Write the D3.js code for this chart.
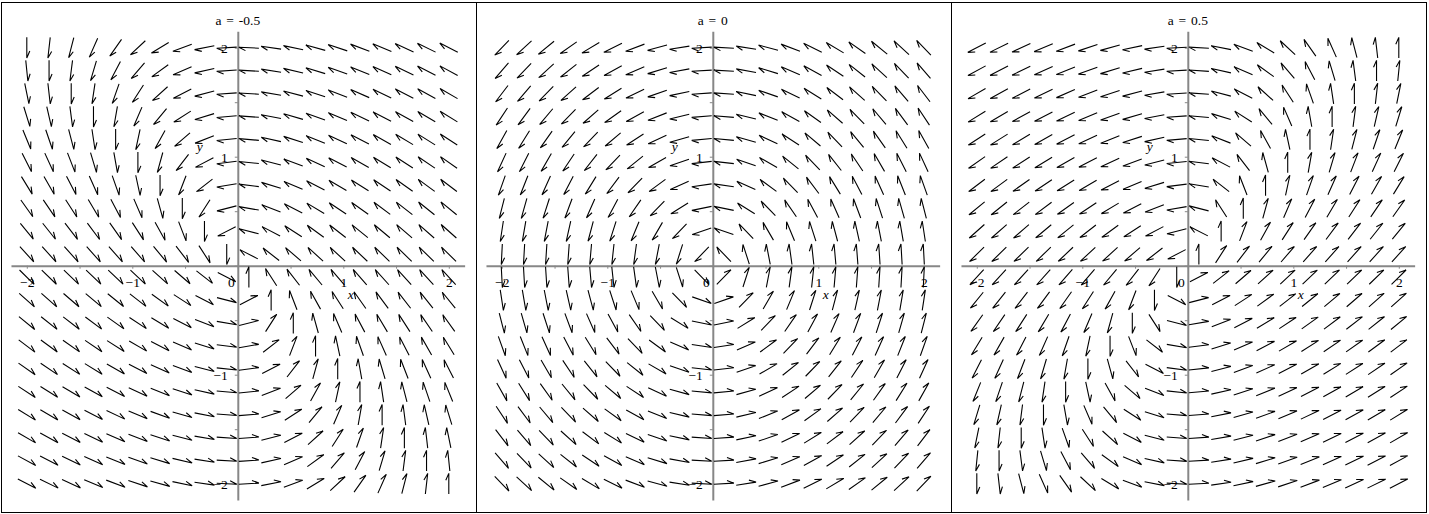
<!DOCTYPE html>
<html>
<head>
<meta charset="utf-8">
<script src="https://cdn.jsdelivr.net/npm/d3@7"></script>
<style>
  html, body { margin: 0; padding: 0; background: #fff; }
  svg { display: block; }
  text { font-family: "Liberation Serif", "Times New Roman", serif; fill: #000; }
</style>
</head>
<body>
<svg id="chart" width="1429" height="514"></svg>
<script>
// ---- data ----
const aValues = [-0.5, 0, 0.5];
const titles = ["a = -0.5", "a = 0", "a = 0.5"];
// 20 x 20 sample grid of the field plot
const gridX = [-2, -1.789, -1.579, -1.368, -1.158, -0.947, -0.737, -0.526, -0.316, -0.105,
               0.105, 0.316, 0.526, 0.737, 0.947, 1.158, 1.368, 1.579, 1.789, 2];
const gridY = [-2, -1.789, -1.579, -1.368, -1.158, -0.947, -0.737, -0.526, -0.316, -0.105,
               0.105, 0.316, 0.526, 0.737, 0.947, 1.158, 1.368, 1.579, 1.789, 2];
// linear system: x' = dxCoef[0]*x + dxCoef[1]*y, y' = dyCoef[0]*x + dyCoef[1]*y
const dxCoef = [[-1, -1], [0, -1], [1, -1]];
const dyCoef = [[1, 0], [1, 0], [1, 0]];
const axisTicks = [-2, -1.5, -1, -0.5, 0, 0.5, 1, 1.5, 2];
const xTickLabels = [-2, -1, 0, 1, 2];
const yTickLabels = [-2, -1, 1, 2];
const xAxisName = "x";
const yAxisName = "y";

// ---- layout ----
const svg = d3.select("#chart");
const panelW = 475;
const axisX0 = 237.8, axisY0 = 265.7;
const pxPerX = 105.5, pxPerY = 109;
const ext = 2.15;
const arrowLen = 0.19, barbLen = 0.07, barbAng = 24 * Math.PI / 180;
const axisColor = "#878787";

aValues.forEach((a, i) => {
  const cx = axisX0 + panelW * i;
  const g = svg.append("g");

  const x = d3.scaleLinear().domain([-ext, ext]).range([cx - ext * pxPerX, cx + ext * pxPerX]);
  const y = d3.scaleLinear().domain([-ext, ext]).range([axisY0 + ext * pxPerY, axisY0 - ext * pxPerY]);

  // axes
  const xAxis = d3.axisBottom(x).tickValues(axisTicks).tickSize(3).tickSizeOuter(0).tickPadding(9)
    .tickFormat(d => xTickLabels.includes(d) ? d3.format("")(d) : "");
  const gx = g.append("g").attr("transform", `translate(0,${y(0)})`).call(xAxis);
  const yAxis = d3.axisLeft(y).tickValues(axisTicks).tickSize(3).tickSizeOuter(0).tickPadding(7)
    .tickFormat(d => yTickLabels.includes(d) ? d3.format("")(d) : "");
  const gy = g.append("g").attr("transform", `translate(${x(0)},0)`).call(yAxis);

  [gx, gy].forEach(ax => {
    ax.select(".domain").attr("stroke", axisColor).attr("stroke-width", 2);
    ax.selectAll(".tick line").attr("stroke", axisColor).attr("stroke-width", 1);
    ax.selectAll(".tick text").attr("font-family", "Liberation Serif").attr("font-size", 13.5).attr("fill", "#000");
  });
  gx.selectAll(".tick").filter(d => d === 0).select("text").attr("x", -7);

  // arrows
  const arrows = [];
  gridX.forEach(px => gridY.forEach(py => {
    const u = dxCoef[i][0] * px + dxCoef[i][1] * py;
    const v = dyCoef[i][0] * px + dyCoef[i][1] * py;
    arrows.push({ px, py, u, v });
  }));
  const c = Math.cos(barbAng), s = Math.sin(barbAng);
  g.append("g").selectAll("path").data(arrows).join("path")
    .attr("d", d => {
      const m = Math.hypot(d.u, d.v) || 1;
      const ux = d.u / m, uy = d.v / m;
      const tx = d.px - ux * arrowLen / 2, ty = d.py - uy * arrowLen / 2;
      const hx = d.px + ux * arrowLen / 2, hy = d.py + uy * arrowLen / 2;
      const bx = -ux, by = -uy;
      const rx = bx * c + by * s, ry = -bx * s + by * c;
      const ex = hx + rx * barbLen, ey = hy + ry * barbLen;
      return `M${x(tx)},${y(ty)}L${x(hx)},${y(hy)}L${x(ex)},${y(ey)}`;
    })
    .attr("fill", "none").attr("stroke", "#000").attr("stroke-width", 1.1);

  // axis names
  g.append("text").attr("x", x(1.07)).attr("y", y(0) + 33).attr("text-anchor", "middle")
    .attr("font-style", "italic").attr("font-size", 13.5).text(xAxisName);
  g.append("text").attr("x", x(0) - 38).attr("y", y(1.05)).attr("text-anchor", "middle")
    .attr("font-style", "italic").attr("font-size", 13.5).text(yAxisName);

  // title
  g.append("text").attr("x", cx).attr("y", 25).attr("text-anchor", "middle")
    .attr("font-size", 13.5).attr("word-spacing", 1.5).text(titles[i]);

  // panel border
  g.append("rect").attr("x", 1.5 + panelW * i).attr("y", 2.5).attr("width", panelW).attr("height", 510)
    .attr("fill", "none").attr("stroke", "#000").attr("stroke-width", 1);
});
</script>
</body>
</html>
